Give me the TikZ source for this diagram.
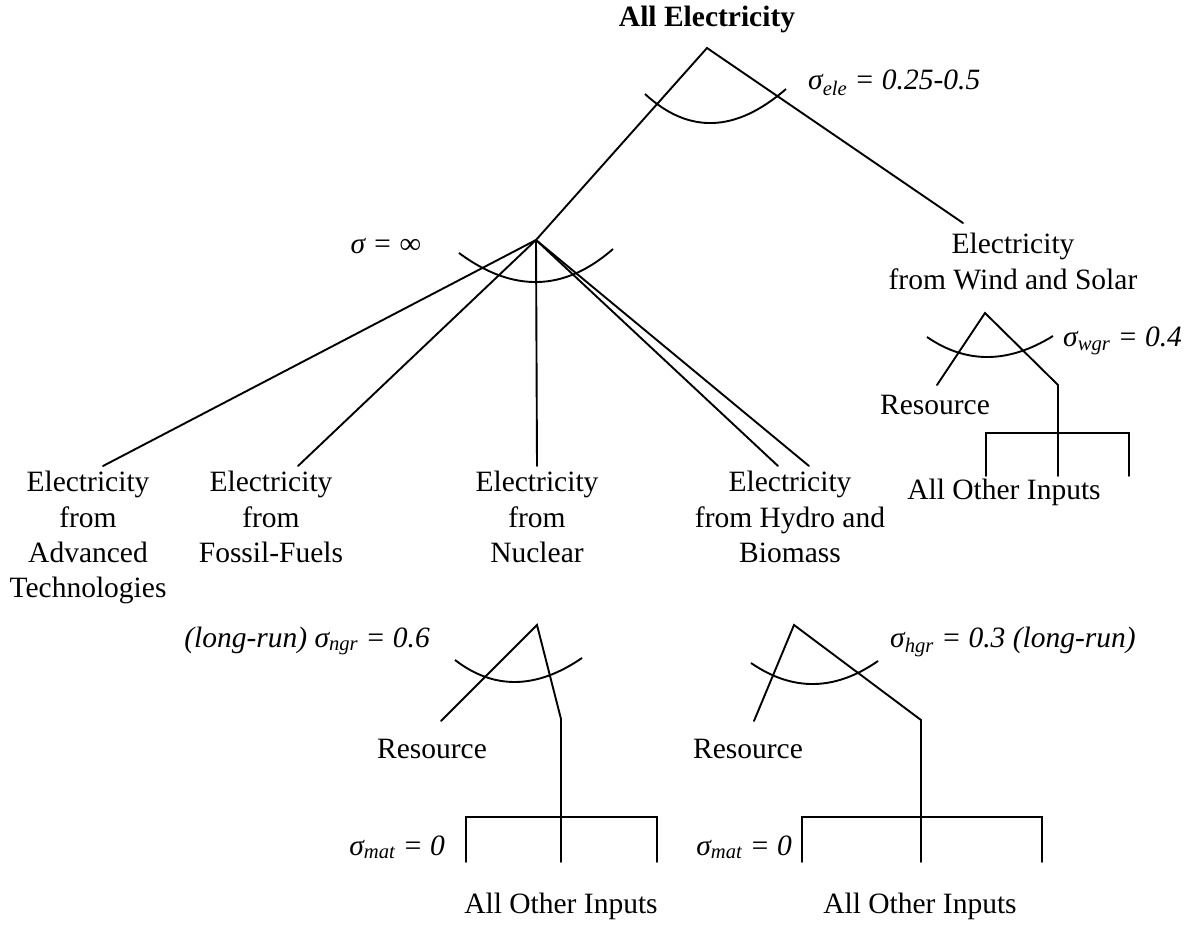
\documentclass[tikz,border=0pt]{standalone}
\usepackage{fontspec}
\setmainfont{Liberation Serif}
\newcommand\diagfont{\fontsize{29.5}{35.4}\selectfont}
\begin{document}
\begin{tikzpicture}[x=1pt,y=-1pt,
  lbl/.style={inner sep=0pt, align=center, font=\diagfont},
  sig/.style={inner sep=0pt, font=\diagfont\itshape},
  branch/.style={line width=1.9pt, line cap=round, line join=miter},
  tie/.style={line width=1.9pt}]
\useasboundingbox (0,0) rectangle (1187,933);

% ---------- top nest ----------
\node[lbl, font=\diagfont\bfseries, anchor=base] (all) at (707,27) {All Electricity};
\coordinate (top) at (707,48);
\coordinate (inf) at (536,240);
\coordinate (ws) at (963,223);
\draw[branch] (inf) -- (top) -- (ws);
\draw[tie] (645,94) .. controls (688.7,134.3) and (735.7,132.7) .. (786,89);
\node[sig, anchor=base west] (sele) at (808,90) {σ\textsubscript{ele} = 0.25-0.5};

% ---------- perfect-substitutes nest ----------
\node[sig, anchor=base east] (sinf) at (421,254) {σ = ∞};
\draw[tie] (459,253) .. controls (513,293) and (564.3,291.7) .. (613,249);
\coordinate (advE) at (103,466);
\coordinate (fosE) at (298,466);
\coordinate (nucE) at (537,466);
\coordinate (hydE) at (778,466);
\coordinate (bioE) at (809,466);
\draw[branch] (inf) -- (advE);
\draw[branch] (inf) -- (fosE);
\draw[branch] (inf) -- (nucE);
\draw[branch] (inf) -- (hydE);
\draw[branch] (inf) -- (bioE);

\node[lbl, anchor=north] (adv) at (88,471) {Electricity\\from\\Advanced\\Technologies};
\node[lbl, anchor=north] (fos) at (271,471) {Electricity\\from\\Fossil-Fuels};
\node[lbl, anchor=north] (nuc) at (537,471) {Electricity\\from\\Nuclear};
\node[lbl, anchor=north] (hyd) at (790,471) {Electricity\\from Hydro and\\Biomass};
\node[lbl, anchor=north] (wind) at (1013,233) {Electricity\\from Wind and Solar};

% ---------- wind and solar ----------
\coordinate (wA) at (985,313);
\coordinate (wL) at (937,385);
\coordinate (wR) at (1058,385);
\coordinate (wB) at (1058,476);
\draw[branch] (wL) -- (wA) -- (wR) -- (wB);
\draw[tie] (927,337) .. controls (966.3,364) and (1008.3,363.7) .. (1053,336);
\node[sig, anchor=base west] (swgr) at (1063,347) {σ\textsubscript{wgr} = 0.4};
\node[lbl, anchor=base] (wres) at (935,415) {Resource};
\draw[branch] (986,476) -- (986,433) -- (1129,433) -- (1129,476);
\node[lbl, anchor=base] (wother) at (1004,499) {All Other Inputs};

% ---------- nuclear ----------
\coordinate (nA) at (537,625);
\coordinate (nL) at (441,721);
\coordinate (nR) at (561,719);
\coordinate (nB) at (561,862);
\draw[branch] (nL) -- (nA) -- (nR) -- (nB);
\draw[tie] (455,660) .. controls (494,690) and (536.3,689.3) .. (582,658);
\node[sig, anchor=base east] (sngr) at (430,647) {(long-run) σ\textsubscript{ngr} = 0.6};
\node[lbl, anchor=base] (nres) at (432,758) {Resource};
\draw[branch] (466,862) -- (466,817) -- (657,817) -- (657,862);
\node[sig, anchor=base east] (smat1) at (445,855) {σ\textsubscript{mat} = 0};
\node[lbl, anchor=base] (nother) at (561,913) {All Other Inputs};

% ---------- hydro and biomass ----------
\coordinate (hA) at (794,625);
\coordinate (hL) at (754,721);
\coordinate (hR) at (921,720);
\coordinate (hB) at (921,862);
\draw[branch] (hL) -- (hA) -- (hR) -- (hB);
\draw[tie] (751,663) .. controls (792.7,691.7) and (835,691) .. (878,661);
\node[sig, anchor=base west] (shgr) at (890,647) {σ\textsubscript{hgr} = 0.3 (long-run)};
\node[lbl, anchor=base] (hres) at (748,758) {Resource};
\draw[branch] (802,862) -- (802,817) -- (1042,817) -- (1042,862);
\node[sig, anchor=base east] (smat2) at (792,855) {σ\textsubscript{mat} = 0};
\node[lbl, anchor=base] (hother) at (920,913) {All Other Inputs};
\end{tikzpicture}
\end{document}
